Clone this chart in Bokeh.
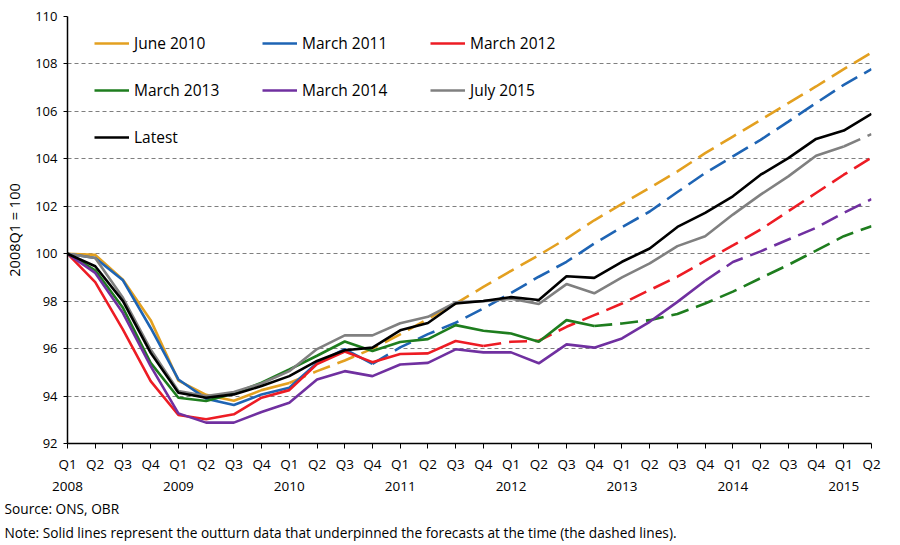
from bokeh.plotting import figure
from bokeh.models import (Range1d, FixedTicker, LinearAxis, Legend, LegendItem, Title)
from bokeh.embed import file_html
from bokeh.resources import INLINE

# ---- data -------------------------------------------------------------
quarter_labels = ["Q1", "Q2", "Q3", "Q4"] * 7 + ["Q1", "Q2"]
year_labels = ["2008", "2009", "2010", "2011", "2012", "2013", "2014", "2015"]
idx = list(range(30))   # 2008Q1 ... 2015Q2

series_names = ["June 2010", "March 2011", "March 2012", "March 2013",
                "March 2014", "July 2015", "Latest"]

june_2010 = [100, 99.95, 98.9, 97.2, 94.65, 94.05, 93.8, 94.25, 94.55, 95.05,
             95.5, 96.0, 96.6, 97.25, 97.9, 98.6, 99.28, 99.94, 100.64, 101.41,
             102.1, 102.78, 103.47, 104.24, 104.94, 105.64, 106.35, 107.05, 107.78, 108.48]
march_2011 = [100, 99.82, 98.88, 96.87, 94.7, 93.89, 93.62, 94.07, 94.35, 95.4,
              95.98, 95.36, 96.05, 96.61, 97.09, 97.69, 98.35, 99.03, 99.66, 100.43,
              101.12, 101.78, 102.6, 103.4, 104.1, 104.8, 105.57, 106.35, 107.12, 107.78]
march_2012 = [100, 98.8, 96.8, 94.63, 93.2, 93.02, 93.23, 93.93, 94.25, 95.35,
              95.88, 95.43, 95.77, 95.8, 96.32, 96.11, 96.29, 96.33, 96.92, 97.41,
              97.9, 98.47, 99.03, 99.7, 100.35, 101.02, 101.79, 102.56, 103.33, 104.05]
march_2013 = [100, 99.3, 97.72, 95.4, 93.93, 93.79, 94.11, 94.56, 95.12, 95.7,
              96.3, 95.9, 96.28, 96.4, 96.99, 96.75, 96.64, 96.29, 97.2, 96.95,
              97.06, 97.2, 97.46, 97.9, 98.4, 98.97, 99.53, 100.13, 100.74, 101.16]
march_2014 = [100, 99.19, 97.5, 95.26, 93.27, 92.88, 92.88, 93.33, 93.72, 94.7,
              95.05, 94.84, 95.33, 95.4, 95.97, 95.84, 95.84, 95.38, 96.18, 96.04,
              96.43, 97.13, 97.97, 98.86, 99.65, 100.1, 100.6, 101.09, 101.72, 102.3]
july_2015 = [100, 99.82, 98.14, 95.96, 94.21, 94.0, 94.17, 94.53, 95.05, 95.98,
             96.56, 96.56, 97.07, 97.34, 97.95, 98.0, 98.1, 97.88, 98.72, 98.33,
             99.0, 99.59, 100.32, 100.74, 101.65, 102.49, 103.26, 104.13, 104.52, 105.04]
latest = [100, 99.47, 98.0, 95.82, 94.14, 93.93, 94.07, 94.42, 94.84, 95.48,
          95.93, 96.04, 96.77, 97.08, 97.9, 98.01, 98.17, 98.05, 99.05, 98.98,
          99.66, 100.22, 101.13, 101.72, 102.42, 103.33, 104.03, 104.84, 105.19, 105.9]

# last quarter of outturn data (index) for each forecast
outturn_end = [8, 11, 15, 19, 23, 28, 29]

all_series = [june_2010, march_2011, march_2012, march_2013, march_2014, july_2015, latest]
colors = ["#E3A020", "#1E64B4", "#ED1C24", "#1E7D1E", "#7030A0", "#808080", "#000000"]

FONT = "Open Sans"

# ---- figure -----------------------------------------------------------
p = figure(width=891, height=541, output_backend="svg", toolbar_location=None,
           x_range=Range1d(0, 29), y_range=Range1d(92, 110),
           min_border_left=67, min_border_right=20, min_border_top=16,
           min_border_bottom=94)
p.outline_line_color = None
p.background_fill_color = "white"
p.xgrid.visible = False

yticks = list(range(92, 111, 2))
p.yaxis.ticker = FixedTicker(ticks=yticks)
p.ygrid.ticker = FixedTicker(ticks=yticks)
p.ygrid.grid_line_color = "#7f7f7f"
p.ygrid.grid_line_dash = "4 3"
p.ygrid.grid_line_width = 1

p.yaxis.axis_label = "2008Q1 = 100"
p.yaxis.axis_label_text_font = FONT
p.yaxis.axis_label_text_font_size = "14.5px"
p.yaxis.axis_label_text_font_style = "normal"
p.yaxis.axis_label_text_color = "black"
p.yaxis.axis_label_standoff = 8
p.yaxis.major_label_text_font = FONT
p.yaxis.major_label_text_font_size = "13px"
p.yaxis.major_label_text_color = "black"
p.yaxis.axis_line_color = "black"
p.yaxis.axis_line_width = 1.5
p.yaxis.major_tick_line_color = "black"
p.yaxis.major_tick_in = 0
p.yaxis.major_tick_out = 4
p.yaxis.minor_tick_line_color = None
p.yaxis.major_label_standoff = 6

p.xaxis.ticker = FixedTicker(ticks=idx)
p.xaxis.major_label_overrides = {i: quarter_labels[i] for i in idx}
p.xaxis.major_label_text_font = FONT
p.xaxis.major_label_text_font_size = "13.5px"
p.xaxis.major_label_text_color = "black"
p.xaxis.axis_line_color = "black"
p.xaxis.axis_line_width = 1.5
p.xaxis.major_tick_line_color = "black"
p.xaxis.major_tick_in = 0
p.xaxis.major_tick_out = 5
p.xaxis.minor_tick_line_color = None
p.xaxis.major_label_standoff = 6

year_ticks = idx[0::4]
year_axis = LinearAxis(ticker=FixedTicker(ticks=year_ticks),
                       major_label_overrides={t: year_labels[k] for k, t in enumerate(year_ticks)})
year_axis.axis_line_color = None
year_axis.major_tick_line_color = None
year_axis.minor_tick_line_color = None
year_axis.major_label_standoff = 0
year_axis.major_label_text_font = FONT
year_axis.major_label_text_font_size = "13.5px"
year_axis.major_label_text_color = "black"
p.add_layout(year_axis, "below")

# ---- lines -----------------------------------------------------------
items = []
for name, vals, end, col in zip(series_names, all_series, outturn_end, colors):
    solid = p.line(idx[:end + 1], vals[:end + 1], line_color=col, line_width=2.6)
    if end < 29:
        p.line(idx[end:], vals[end:], line_color=col, line_width=2.6, line_dash="18 8")
    items.append(LegendItem(label=name, renderers=[solid]))

legend = Legend(items=items, orientation="horizontal", ncols=3,
                location=(27, 283), padding=0, margin=0, spacing=0,
                glyph_width=35, glyph_height=20, label_standoff=5,
                label_width=128, label_height=47,
                label_text_font=FONT, label_text_font_size="15.5px",
                label_text_color="black", label_text_baseline="middle",
                background_fill_alpha=0, border_line_color=None)
p.add_layout(legend, "center")

# ---- footnotes -------------------------------------------------------
src = Title(text="Source: ONS, OBR", align="left", offset=-63,
            text_font=FONT, text_font_size="13.7px", text_font_style="normal",
            text_color="black", standoff=6)
note = Title(text="Note: Solid lines represent the outturn data that underpinned the forecasts at the time (the dashed lines).",
             align="left", offset=-63,
             text_font=FONT, text_font_size="13.7px", text_font_style="normal",
             text_color="black", standoff=0)
p.add_layout(src, "below")
p.add_layout(note, "below")

open("out.html", "w").write(file_html(p, INLINE))
